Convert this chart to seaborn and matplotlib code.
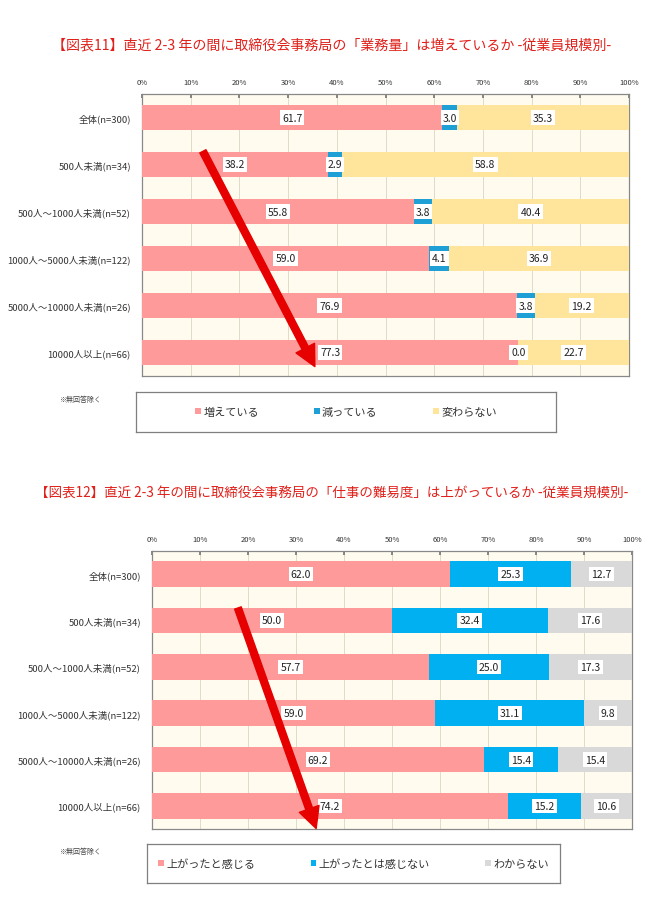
import numpy as np
import pandas as pd
import seaborn as sns
import matplotlib.pyplot as plt
from matplotlib.patches import Patch

# ---------------------------------
# DATA
# ---------------------------------
categories = ["全体(n=300)", "500人未満(n=34)", "500人～1000人未満(n=52)",
              "1000人～5000人未満(n=122)", "5000人～10000人未満(n=26)", "10000人以上(n=66)"]

# chart 11 : workload
work_up = [61.7, 38.2, 55.8, 59.0, 76.9, 77.3]
work_down = [3.0, 2.9, 3.8, 4.1, 3.8, 0.0]
work_same = [35.3, 58.8, 40.4, 36.9, 19.2, 22.7]
work_series = ["増えている", "減っている", "変わらない"]

# chart 12 : difficulty
diff_up = [62.0, 50.0, 57.7, 59.0, 69.2, 74.2]
diff_not = [25.3, 32.4, 25.0, 31.1, 15.4, 15.2]
diff_unk = [12.7, 17.6, 17.3, 9.8, 15.4, 10.6]
diff_series = ["上がったと感じる", "上がったとは感じない", "わからない"]

title1 = "【図表11】直近 2-3 年の間に取締役会事務局の「業務量」は増えているか -従業員規模別-"
title2 = "【図表12】直近 2-3 年の間に取締役会事務局の「仕事の難易度」は上がっているか -従業員規模別-"
note = "※無回答除く"
xticks = [0, 10, 20, 30, 40, 50, 60, 70, 80, 90, 100]

colors1 = ["#ff9a9a", "#1e9fd6", "#ffe49c"]
colors2 = ["#ff9a9a", "#00b0f0", "#d9d9d9"]

# ---------------------------------
# STYLE
# ---------------------------------
sns.set_theme(style="white")
plt.rcParams['font.family'] = ['Noto Sans CJK JP', 'DejaVu Sans']

W, H = 652, 904
fig = plt.figure(figsize=(W / 100, H / 100), dpi=100)
fig.patch.set_facecolor("white")


def px(x0, y0, x1, y1):
    # pixel box -> figure fraction rect
    return [x0 / W, 1 - y1 / H, (x1 - x0) / W, (y1 - y0) / H]


def stacked(ax, s1, s2, s3, colors, arrow):
    df = pd.DataFrame({"cat": categories, "a": s1, "b": s2, "c": s3})
    df["ab"] = df["a"] + df["b"]
    df["abc"] = df["ab"] + df["c"]
    # draw cumulative layers, largest first
    for col, c in zip(["abc", "ab", "a"], colors[::-1]):
        sns.barplot(data=df, x=col, y="cat", orient="h", color=c, width=0.55,
                    saturation=1, ax=ax, zorder=3, edgecolor="none")
    # value labels
    for i, row in df.iterrows():
        for v, center in [(row["a"], row["a"] / 2),
                          (row["b"], row["a"] + row["b"] / 2),
                          (row["c"], row["ab"] + row["c"] / 2)]:
            ax.text(center, i, f"{v:.1f}", ha="center", va="center", fontsize=7.5,
                    color="#222222", zorder=5,
                    bbox=dict(boxstyle="square,pad=0.2", fc="white", ec="none"))
    ax.set_xlim(0, 100)
    ax.set_ylim(5.5, -0.5)
    ax.set_facecolor("#fffcef")
    ax.set_xticks(xticks)
    ax.set_xticklabels([f"{t}%" for t in xticks], fontsize=5.5, color="#333333")
    ax.xaxis.tick_top()
    ax.tick_params(axis="x", direction="in", length=3, pad=6, color="#777777", top=True)
    ax.tick_params(axis="y", length=0, pad=8, labelsize=6.8, labelcolor="#333333")
    ax.set_xlabel("")
    ax.set_ylabel("")
    ax.grid(axis="x", color="#dedbc8", linewidth=0.7, zorder=0)
    ax.set_axisbelow(True)
    for s in ax.spines.values():
        s.set_visible(True)
        s.set_color("#888888")
        s.set_linewidth(0.9)
    (x0, y0), (x1, y1) = arrow
    ax.annotate("", xy=(x1, y1), xytext=(x0, y0), zorder=6, annotation_clip=False,
                arrowprops=dict(facecolor="#e60000", edgecolor="#e60000",
                                width=5, headwidth=15, headlength=15))


def legend_box(rect, labels, colors):
    lax = fig.add_axes(rect)
    lax.set_xticks([])
    lax.set_yticks([])
    for s in lax.spines.values():
        s.set_visible(True)
        s.set_color("#7f7f7f")
        s.set_linewidth(0.9)
    handles = [Patch(facecolor=c, edgecolor="none", label=l) for c, l in zip(colors, labels)]
    lax.legend(handles=handles, loc="center", ncol=3, frameon=False, fontsize=8,
               handlelength=0.5, handleheight=0.5, handletextpad=0.2,
               columnspacing=5.0, labelcolor="#333333")


# ---------------------------------
# CHART 11
# ---------------------------------
fig.text(332 / W, 1 - 45 / H, title1, ha="center", va="center", fontsize=10.1, color="#e0201a")
ax1 = fig.add_axes(px(142, 95, 629, 377))
stacked(ax1, work_up, work_down, work_same, colors1, ((12.5, 0.72), (35.5, 5.3)))
fig.text(80 / W, 1 - 400 / H, note, ha="center", va="center", fontsize=5, color="#444444")
legend_box(px(136, 393, 556, 433), work_series, colors1)

# ---------------------------------
# CHART 12
# ---------------------------------
fig.text(332 / W, 1 - 493 / H, title2, ha="center", va="center", fontsize=9.75, color="#e0201a")
ax2 = fig.add_axes(px(152, 552, 632, 830))
stacked(ax2, diff_up, diff_not, diff_unk, colors2, ((17.9, 0.73), (34.2, 5.49)))
fig.text(80 / W, 1 - 852 / H, note, ha="center", va="center", fontsize=5, color="#444444")
legend_box(px(147, 845, 560, 884), diff_series, colors2)

fig.savefig("out.png", dpi=100)
